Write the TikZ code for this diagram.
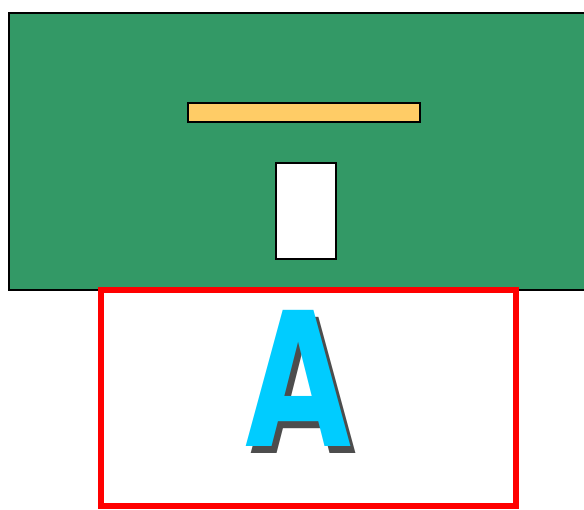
\documentclass[tikz,border=0pt]{standalone}
\usepackage{fontspec}
\newfontfamily\letterfont{DejaVu Sans Condensed}
\definecolor{boardgreen}{HTML}{339966}
\definecolor{baryellow}{HTML}{FFCC66}
\definecolor{lettercyan}{HTML}{00CCFF}
\definecolor{shadowgray}{HTML}{4D4D4D}
\tikzset{
  plate/.style={draw=black, line width=1.5pt},
  frame/.style={draw=red, line width=6pt},
  bigletter/.style={inner sep=0pt, outer sep=0pt, font=\letterfont\bfseries},
}
\newcommand{\bigA}{\resizebox{106pt}{136pt}{A}}
\begin{document}
\begin{tikzpicture}[x=1pt,y=-1pt]
\useasboundingbox (0,0) rectangle (584,509);
\path[plate, fill=boardgreen] (9,13) rectangle (600,290);
\node[plate, fill=baryellow, minimum width=232pt, minimum height=19pt, inner sep=0pt, anchor=north west] (bar) at (187,102) {};
\node[plate, fill=white, minimum width=60pt, minimum height=96pt, inner sep=0pt, anchor=north west] (win) at (275,162) {};
\node[frame, minimum width=415pt, minimum height=216pt, inner sep=0pt] (box) at (308.5,397.5) {};
\node[bigletter, text=shadowgray] (shadow) at (303.9,385.9) {\bigA};
\node[bigletter, text=lettercyan] (letter) at (298.9,378.9) {\bigA};
\end{tikzpicture}
\end{document}
